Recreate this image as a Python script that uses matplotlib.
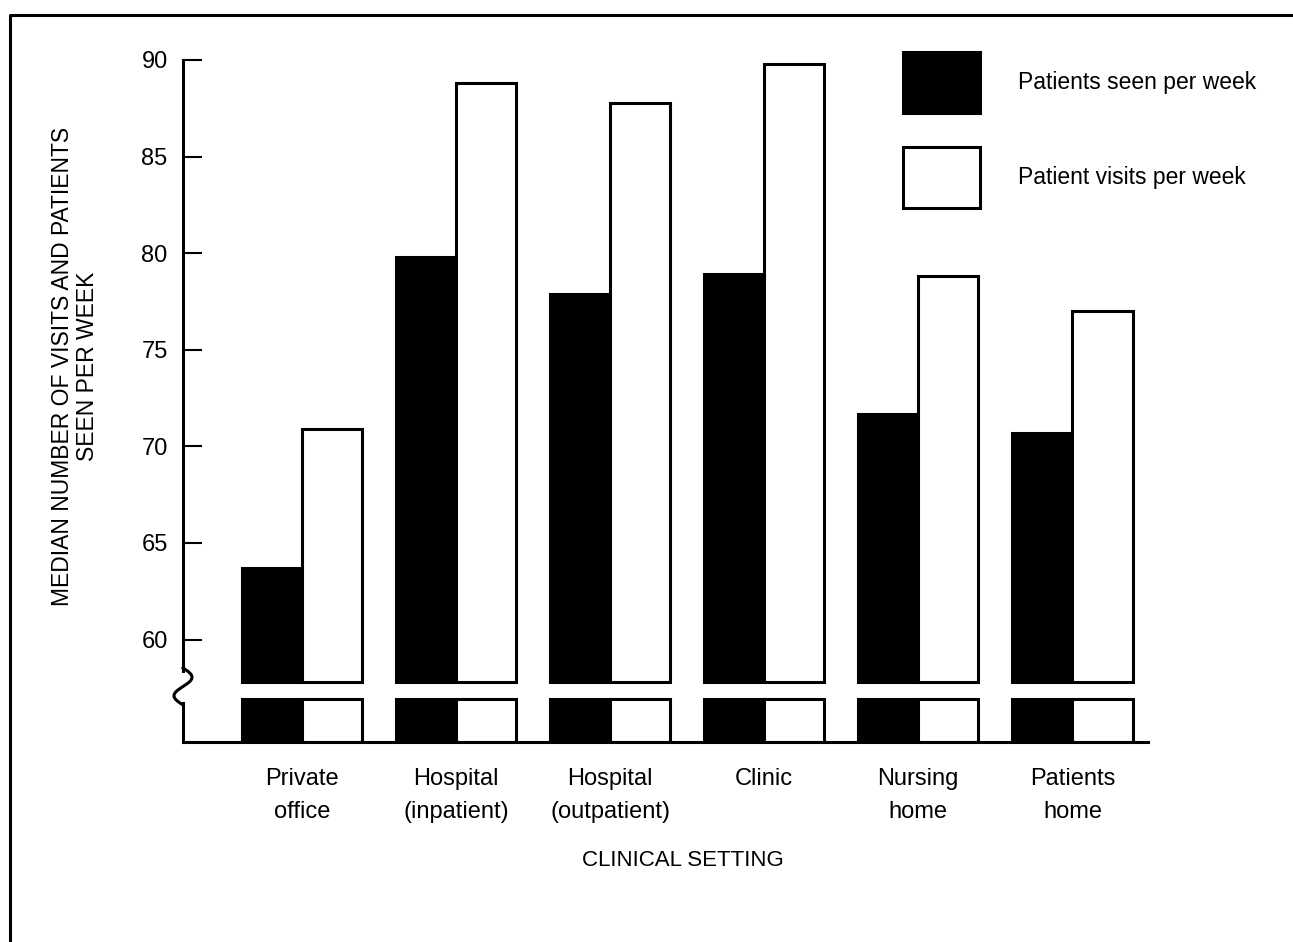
import numpy as np
import matplotlib
matplotlib.use("Agg")
import matplotlib.pyplot as plt
from matplotlib.lines import Line2D

# data
categories = ["Private\noffice", "Hospital\n(inpatient)", "Hospital\n(outpatient)",
              "Clinic", "Nursing\nhome", "Patients\nhome"]
seen_per_week = [63.7, 79.8, 77.9, 78.9, 71.7, 70.7]
visits_per_week = [70.9, 88.8, 87.8, 89.8, 78.8, 77.0]
yticks = [60, 65, 70, 75, 80, 85, 90]
series_labels = ["Patients seen per week", "Patient visits per week"]

W, H = 1293, 942
plain = ["Liberation Sans", "DejaVu Sans"]


def fx(px):
    return px / W


def fy(py):
    return 1 - py / H


fig = plt.figure(figsize=(W / 100, H / 100), dpi=100)

left, right = 183, 1148
ax = fig.add_axes([fx(left), fy(685), fx(right - left), (685 - 60) / H])
ax_lo = fig.add_axes([fx(left), fy(742), fx(right - left), (742 - 697) / H])

x = np.arange(len(categories))
w = 0.39
base = 57.8
lw = 2.2

seen_h = [v - base for v in seen_per_week]
visit_h = [v - base for v in visits_per_week]
b1 = ax.bar(x - w / 2, seen_h, w, bottom=base, color="black", edgecolor="black",
            linewidth=lw, label=series_labels[0])
b2 = ax.bar(x + w / 2, visit_h, w, bottom=base, color="white", edgecolor="black",
            linewidth=lw, label=series_labels[1])

# stubs below the axis break
stub = 0.955
ax_lo.bar(x - w / 2, stub, w, color="black", edgecolor="black", linewidth=lw)
ax_lo.bar(x + w / 2, stub, w, color="white", edgecolor="black", linewidth=lw)

for a in (ax, ax_lo):
    a.set_xlim(-0.77, 5.49)
    for s in ("top", "right"):
        a.spines[s].set_visible(False)
    a.spines["left"].set_linewidth(2.2)

ax.set_ylim(57.65, 90)
ax.spines["bottom"].set_visible(False)
ax.spines["left"].set_bounds(58.4, 90)
ax.set_xticks([])
ax.set_yticks(yticks)
ax.set_yticklabels([str(t) for t in yticks], family=plain, fontsize=17)
ax.tick_params(axis="y", direction="in", length=14, width=1.5, pad=11)

ax_lo.set_ylim(0, 1)
ax_lo.spines["left"].set_bounds(0, 0.87)
ax_lo.spines["bottom"].set_linewidth(2.2)
ax_lo.set_yticks([])
ax_lo.set_xticks(x)
ax_lo.set_xticklabels(categories, family=plain, fontsize=17, linespacing=1.65)
ax_lo.tick_params(axis="x", length=0, pad=19)

# axis break squiggle
yy = np.linspace(668, 705, 60)
xx = 183 + 9 * np.sin(2 * np.pi * (yy - 668) / 37)
fig.add_artist(Line2D(fx(xx), fy(yy), color="black", lw=2.2, transform=fig.transFigure))

# outer frame
fig.add_artist(Line2D([fx(10), fx(10), 1], [0, fy(15), fy(15)], color="black",
                      lw=2.2, transform=fig.transFigure))

fig.text(fx(75), fy(366), "MEDIAN NUMBER OF VISITS AND PATIENTS\nSEEN PER WEEK",
         rotation=90, ha="center", va="center", multialignment="center",
         family=plain, fontsize=16.5, linespacing=1.1)
fig.text(fx(683), fy(861), "CLINICAL SETTING", ha="center", va="center",
         family=plain, fontsize=16)

fig.legend(handles=[b1, b2], labels=series_labels, loc="upper left",
           bbox_to_anchor=(fx(903), fy(52)), frameon=False, borderpad=0,
           borderaxespad=0, prop={"family": plain, "size": 16.5},
           handlelength=3.37, handleheight=3.72, labelspacing=1.48,
           handletextpad=1.66)

fig.savefig("out.png", dpi=100)
